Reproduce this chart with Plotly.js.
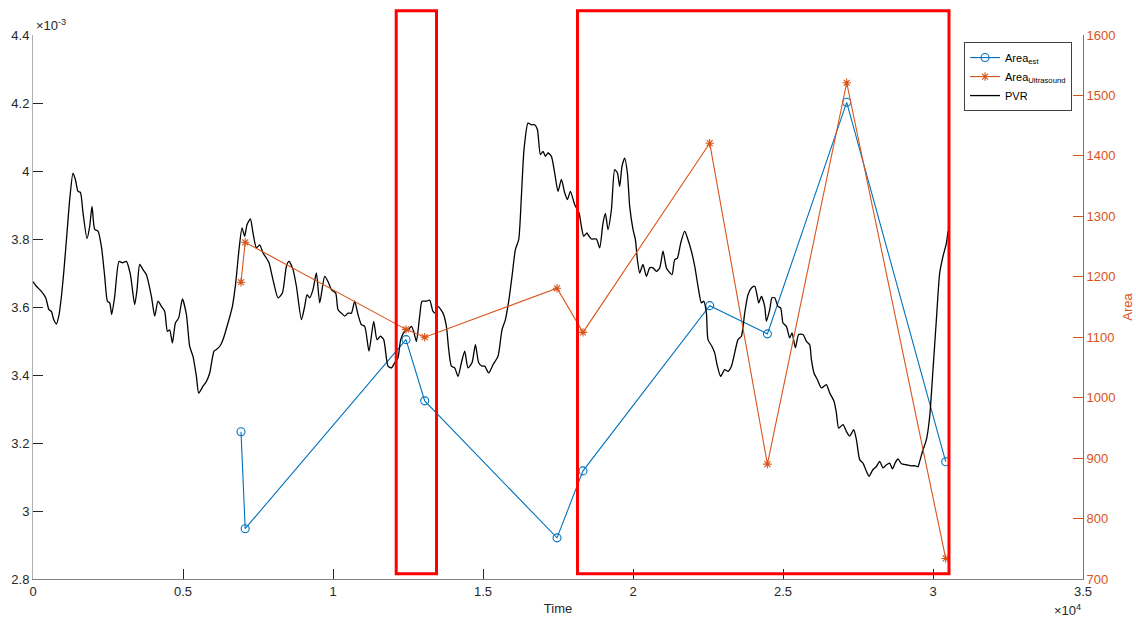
<!DOCTYPE html>
<html>
<head>
<meta charset="utf-8">
<script src="https://cdn.plot.ly/plotly-3.0.1.min.js"></script>
<style>
html,body{margin:0;padding:0;background:#fff;}
#chart{width:1136px;height:619px;}
</style>
</head>
<body>
<div id="chart"></div>
<script>
// ---- Data ----
// Time axis in raw units (axis shows x 10^4)
// PVR values are in units of 1e-3 (axis shows x 10^-3)
const pvrTime = [
  0,113,280,423,533,613,690,780,867,947,1033,1133,1223,1333,1413,1500,1580,1667,1800,1890,1967,2057,2167,2280,2390,2480,2557,2623,2723,2867,2980,3113,3247,3390,3467,3557,3667,3780,3947,4057,4167,4280,4390,4480,4557,4647,4747,4857,4980,5113,5223,5333,5447,5523,5667,5780,5890,6033,
  6113,6223,6333,6500,6647,6757,6867,6967,7057,7133,7247,7333,7447,7557,7667,7780,7867,8000,8167,8313,8447,8533,8667,8780,8947,9057,9133,9223,9333,9447,9557,9723,9833,9947,10090,10167,10280,10390,10500,10613,10723,10833,10947,11057,11200,11357,11467,11580,11690,11833,11947,12057,
  12167,12257,12390,12500,12613,12690,12780,12890,12967,13113,13223,13333,13413,13500,13667,13780,13857,13947,14057,14167,14280,14390,14500,14633,14747,14857,14967,15057,15190,15333,15500,15633,15747,15857,15967,16080,16190,16280,16367,16500,16613,16723,16813,16913,17000,17080,17167,17280,17390,17500,17613,17723,17813,17913,18057,18200,18280,18357,18467,
  18500,18613,18780,18890,19000,19080,19167,19280,19390,19480,19557,19633,19723,19813,19890,20000,20080,20147,20223,20333,20447,20557,20667,20780,20890,21000,21113,21190,21300,21390,21480,21590,21723,21833,21947,22057,22167,22280,22357,22447,22500,22633,22723,22813,22923,23057,23167,23280,23390,23500,23613,23723,23833,23947,24057,24133,24190,24280,24390,24447,24557,24633,24723,24833,
  24923,25000,25113,25223,25300,25413,25523,25667,25780,25890,25947,26033,26147,26280,26447,26557,26700,26780,26857,27000,27113,27223,27357,27447,27557,27667,27780,27867,28000,28113,28223,28333,28447,28557,28647,28747,28833,28947,29113,29280,29413,29500,29557,29667,29780,29890,30000,30113,30223,30333,30447,30500
];
const pvrValue = [
  3.675,3.661,3.646,3.627,3.592,3.587,3.563,3.550,3.577,3.631,3.710,3.818,3.916,3.994,3.975,3.940,3.937,3.877,3.801,3.837,3.896,3.828,3.823,3.778,3.690,3.617,3.612,3.578,3.631,3.734,3.730,3.734,3.695,3.607,3.651,3.725,3.710,3.695,3.631,3.573,3.617,3.602,3.587,3.528,3.533,3.494,3.553,3.568,3.624,3.578,3.484,3.455,3.396,3.347,3.367,3.381,3.406,3.470,
  3.475,3.484,3.504,3.553,3.602,3.671,3.769,3.833,3.808,3.842,3.859,3.818,3.774,3.783,3.759,3.744,3.730,3.680,3.627,3.641,3.720,3.734,3.710,3.661,3.563,3.602,3.636,3.627,3.651,3.700,3.612,3.690,3.675,3.651,3.641,3.592,3.582,3.573,3.582,3.582,3.617,3.578,3.548,3.543,3.470,3.558,3.504,3.514,3.504,3.426,3.421,3.436,
  3.451,3.504,3.528,3.533,3.543,3.528,3.499,3.573,3.617,3.617,3.620,3.587,3.582,3.602,3.582,3.543,3.475,3.426,3.421,3.396,3.436,3.470,3.421,3.436,3.489,3.436,3.426,3.426,3.406,3.430,3.455,3.533,3.563,3.617,3.690,3.769,3.798,3.926,4.063,4.141,4.136,4.136,4.122,4.048,4.058,4.043,4.053,4.043,3.994,3.940,3.975,3.936,3.916,3.940,3.901,3.877,3.837,3.808,3.818,
  3.813,3.800,3.800,3.774,3.847,3.875,3.828,3.886,4.004,3.994,3.955,4.014,4.038,3.994,3.896,3.828,3.798,3.739,3.700,3.725,3.690,3.715,3.715,3.705,3.715,3.764,3.715,3.705,3.695,3.739,3.744,3.788,3.823,3.798,3.764,3.720,3.661,3.612,3.617,3.582,3.504,3.484,3.465,3.426,3.396,3.416,3.411,3.426,3.465,3.504,3.514,3.582,3.636,3.656,3.661,3.636,3.612,3.631,3.602,3.558,3.592,3.627,3.627,3.602,
  3.597,3.553,3.543,3.509,3.524,3.480,3.519,3.519,3.499,3.489,3.445,3.406,3.386,3.362,3.372,3.347,3.323,3.288,3.244,3.254,3.234,3.220,3.239,3.210,3.151,3.141,3.117,3.102,3.122,3.131,3.146,3.127,3.136,3.141,3.124,3.143,3.153,3.139,3.136,3.133,3.133,3.130,3.146,3.180,3.210,3.278,3.416,3.563,3.700,3.749,3.788,3.823
];

// Measurement times shared by both area series
const measureTime = [6933, 7073, 12433, 13057, 17467, 18333, 22557, 24480, 27123, 30423];
// Area_est (units of 1e-3, left axis)
const areaEst = [3.233, 2.948, 3.504, 3.324, 2.921, 3.118, 3.604, 3.521, 4.202, 3.145];
// Area_Ultrasound (right axis)
const areaUltrasound = [1191, 1257, 1113, 1100, 1181, 1108, 1421, 890, 1521, 734];

// Highlighted time windows (red boxes)
const windowStart = [12107, 18150];
const windowEnd = [13450, 30533];

// Tick labels
const xTickVals = [0, 5000, 10000, 15000, 20000, 25000, 30000, 35000];
const xTickText = ['0', '0.5', '1', '1.5', '2', '2.5', '3', '3.5'];
const yTickVals = [2.8, 3.0, 3.2, 3.4, 3.6, 3.8, 4.0, 4.2, 4.4];
const yTickText = ['2.8', '3', '3.2', '3.4', '3.6', '3.8', '4', '4.2', '4.4'];
const y2TickVals = [700, 800, 900, 1000, 1100, 1200, 1300, 1400, 1500, 1600];

// ---- Styles ----
const BLUE = '#0072BD';
const ORANGE = '#D95319';
const TXT = '#262626';
const FONT = 'Liberation Sans, Arial, Helvetica, sans-serif';

const traces = [
  {
    x: measureTime, y: areaEst, name: 'Area<sub>est</sub>', type: 'scatter', mode: 'lines+markers',
    yaxis: 'y', line: {color: BLUE, width: 1.1},
    marker: {symbol: 'circle-open', size: 8, color: BLUE, line: {width: 1.1, color: BLUE}}
  },
  {
    x: measureTime, y: areaUltrasound, name: 'Area<sub>Ultrasound</sub>', type: 'scatter', mode: 'lines+markers',
    yaxis: 'y2', line: {color: ORANGE, width: 1.1},
    marker: {symbol: 'asterisk-open', size: 7, color: ORANGE, line: {width: 1.1, color: ORANGE}}
  },
  {
    x: pvrTime, y: pvrValue, name: 'PVR', type: 'scatter', mode: 'lines',
    yaxis: 'y', line: {color: '#000000', width: 1.3, shape: 'spline', smoothing: 0.6}
  }
];

const shapes = windowStart.map((s, i) => ({
  type: 'rect', xref: 'x', yref: 'paper', x0: s, x1: windowEnd[i], y0: 0.0095, y1: 1.0445,
  line: {color: '#FF0000', width: 3}, fillcolor: 'rgba(0,0,0,0)', layer: 'above'
}));

const layout = {
  width: 1136, height: 619,
  margin: {l: 33, r: 53, t: 35, b: 40, pad: 0},
  paper_bgcolor: '#ffffff', plot_bgcolor: '#ffffff',
  font: {family: FONT, size: 13, color: TXT},
  showlegend: true,
  legend: {
    x: 0.8867, y: 0.987, xanchor: 'left', yanchor: 'top',
    bgcolor: '#ffffff', bordercolor: '#404040', borderwidth: 1,
    font: {family: FONT, size: 11, color: '#000000'},
    tracegroupgap: 0, itemwidth: 30
  },
  xaxis: {
    range: [0, 35000], tickvals: xTickVals, ticktext: xTickText,
    ticks: 'inside', ticklen: 10, tickwidth: 1, tickcolor: '#262626',
    showline: true, linecolor: '#808080', linewidth: 1,
    showgrid: false, zeroline: false, mirror: false,
    tickfont: {family: FONT, size: 13, color: TXT},
    title: {text: 'Time', font: {family: FONT, size: 13, color: TXT}, standoff: 6}
  },
  yaxis: {
    range: [2.8, 4.4], tickvals: yTickVals, ticktext: yTickText,
    ticks: 'inside', ticklen: 10, tickwidth: 1, tickcolor: '#262626',
    showline: true, linecolor: '#b0b0b0', linewidth: 1,
    showgrid: false, zeroline: false,
    tickfont: {family: FONT, size: 13, color: TXT}
  },
  yaxis2: {
    range: [700, 1600], tickvals: y2TickVals, overlaying: 'y', side: 'right',
    ticks: 'inside', ticklen: 10, tickwidth: 1, tickcolor: ORANGE,
    showline: true, linecolor: ORANGE, linewidth: 1,
    showgrid: false, zeroline: false,
    tickfont: {family: FONT, size: 13, color: ORANGE},
    title: {text: 'Area', font: {family: FONT, size: 13, color: ORANGE}, standoff: 8}
  },
  shapes: shapes,
  annotations: [
    {text: '\u00d710<sup>-3</sup>', xref: 'paper', yref: 'paper', x: 0, y: 1, xanchor: 'left', yanchor: 'bottom',
     xshift: 1, yshift: 0, showarrow: false, font: {family: FONT, size: 13, color: TXT}},
    {text: '\u00d710<sup>4</sup>', xref: 'paper', yref: 'paper', x: 1, y: 0, xanchor: 'right', yanchor: 'top',
     yshift: -21, showarrow: false, font: {family: FONT, size: 13, color: TXT}}
  ]
};

Plotly.newPlot('chart', traces, layout, {staticPlot: true, displayModeBar: false});
</script>
</body>
</html>
